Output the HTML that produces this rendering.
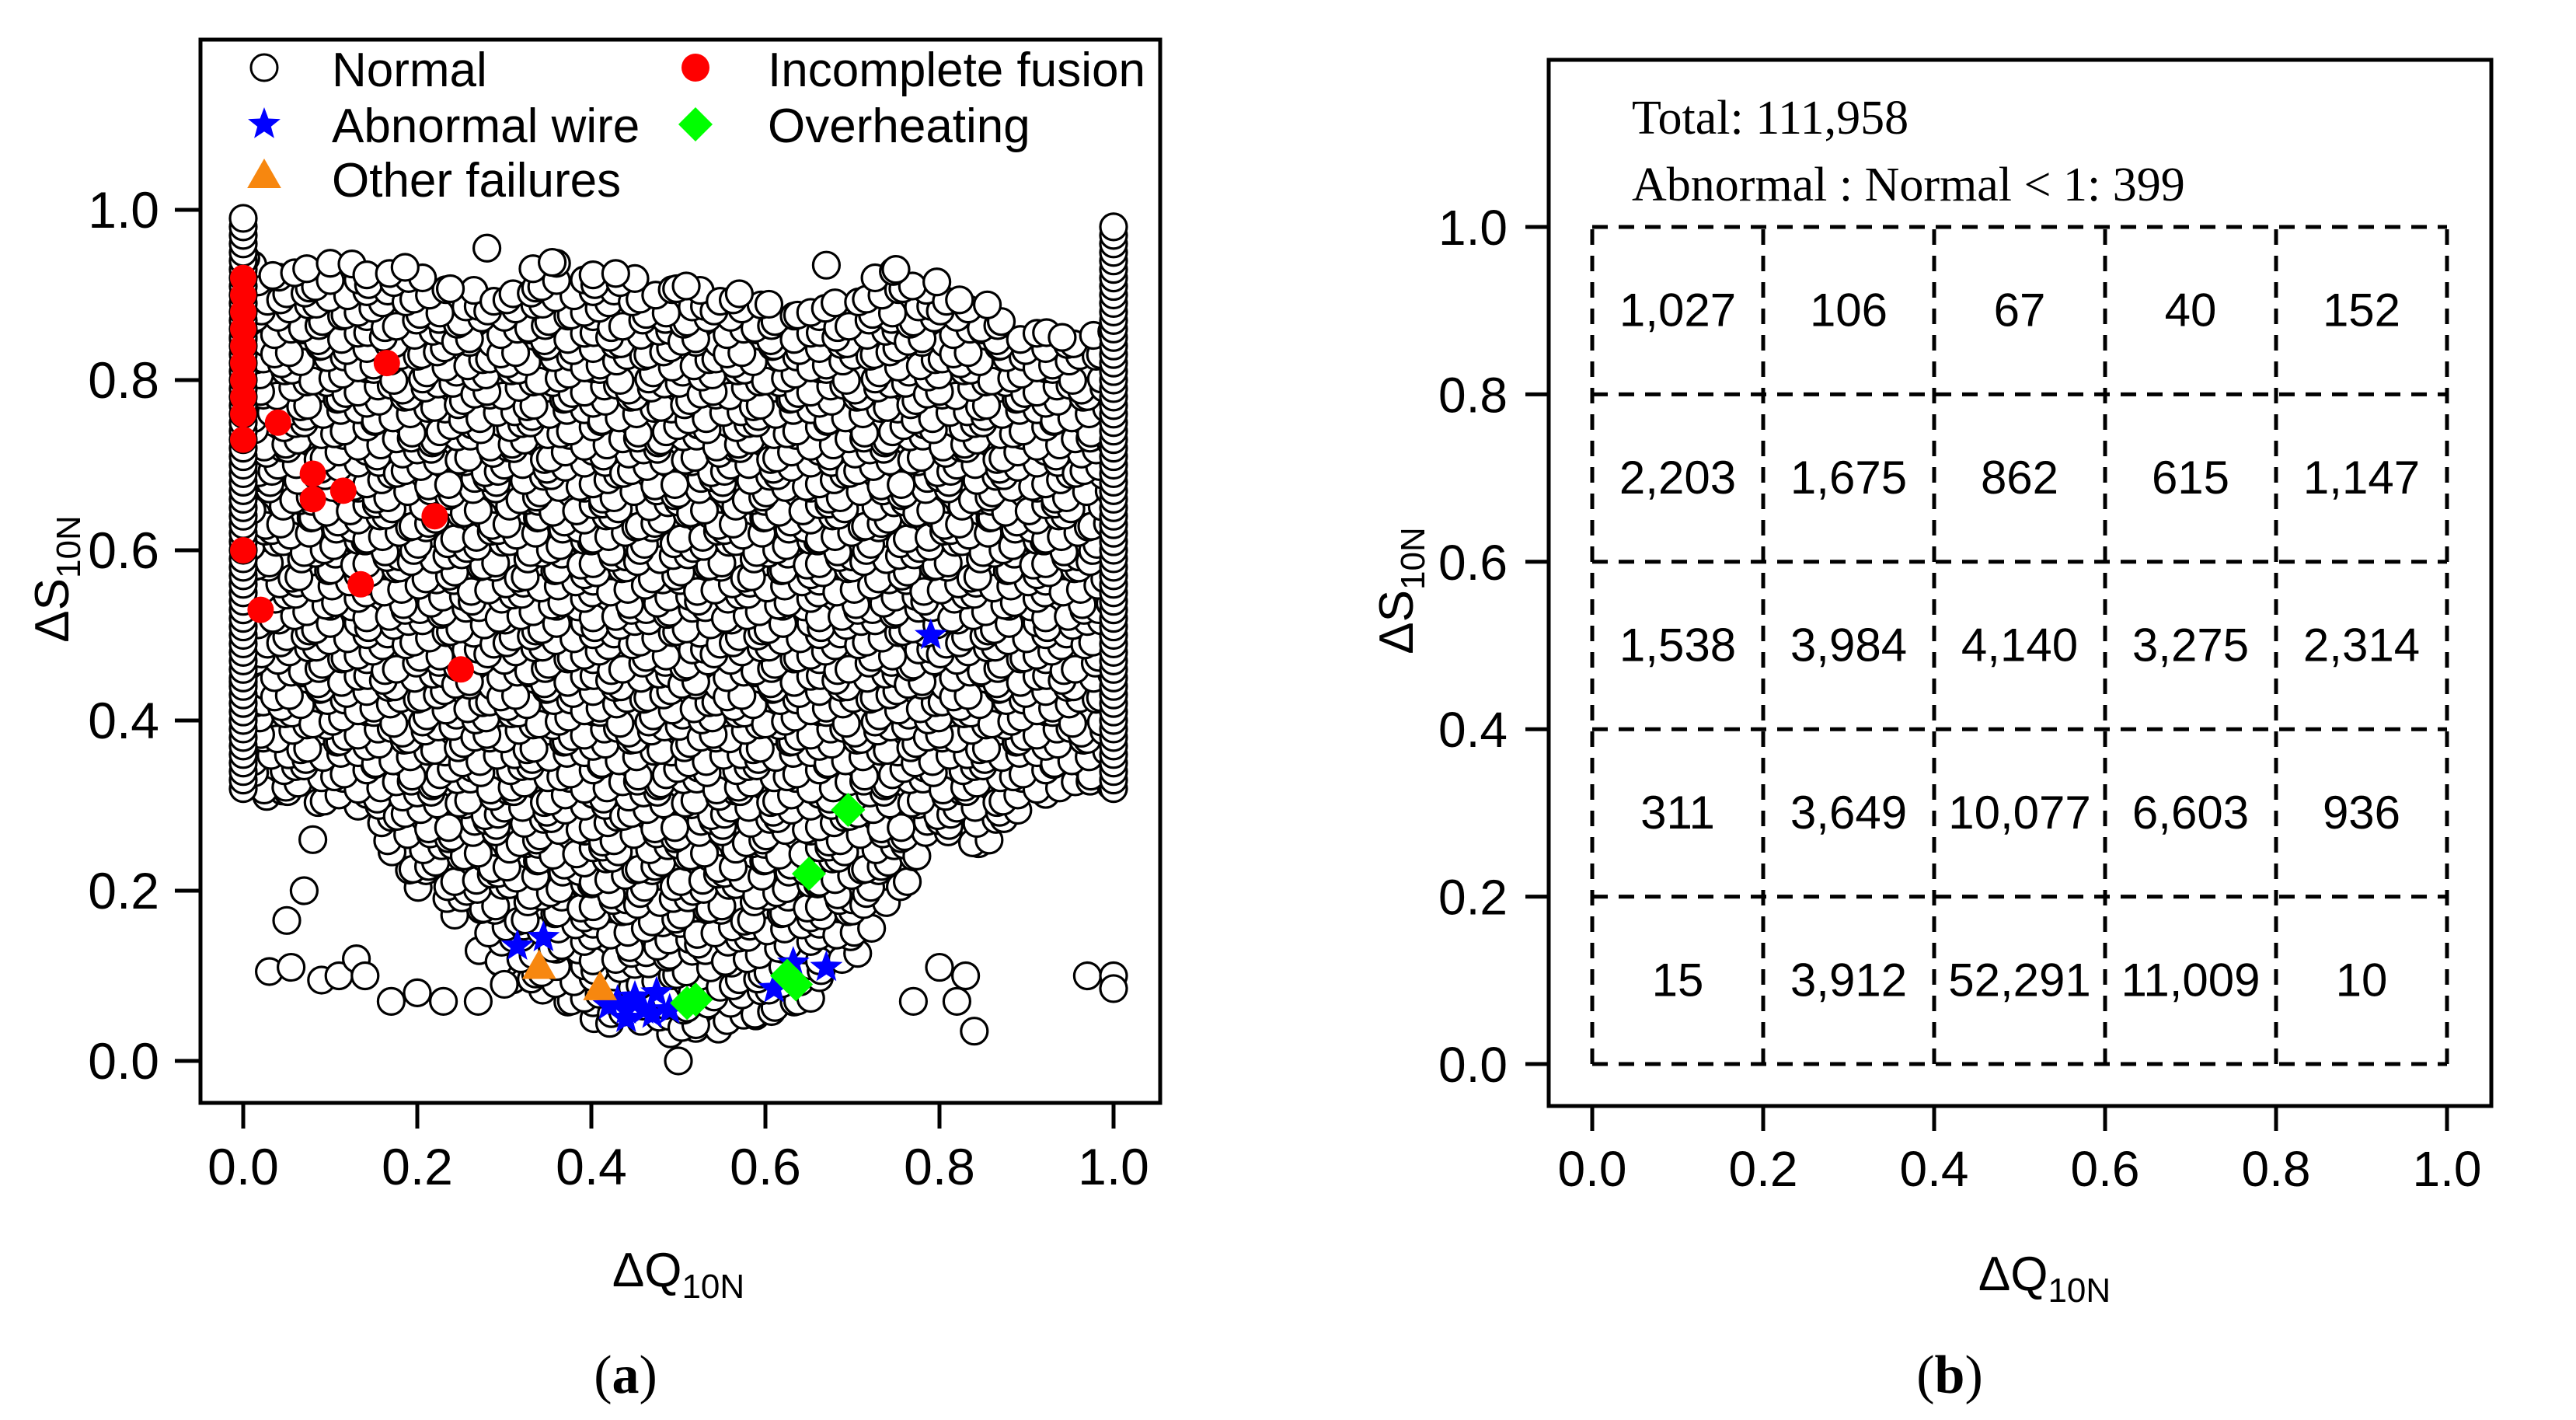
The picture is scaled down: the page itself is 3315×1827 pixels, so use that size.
<!DOCTYPE html>
<html><head><meta charset="utf-8"><style>
html,body{margin:0;padding:0;background:#fff;}
svg{display:block;}
</style></head><body>
<svg id="fig" width="3315" height="1827" viewBox="0 0 3315 1827" xmlns="http://www.w3.org/2000/svg">
<rect width="3315" height="1827" fill="#fff"/>
<g id="panelA"></g>
<g id="panelB"></g>
</svg>
<script>
// ---------- Panel (a) data ----------
const envX = [0, 0.02, 0.05, 0.1, 0.15, 0.2, 0.25, 0.3, 0.35, 0.4, 0.45, 0.5, 0.55, 0.6, 0.65, 0.7, 0.75, 0.8, 0.85, 0.9, 0.95, 0.98];
const envLow = [0.32, 0.31, 0.3, 0.3, 0.27, 0.2, 0.17, 0.1, 0.07, 0.05, 0.035, 0.03, 0.035, 0.05, 0.07, 0.12, 0.2, 0.25, 0.25, 0.3, 0.32, 0.32];
const envHigh = [0.98, 0.94, 0.93, 0.94, 0.94, 0.93, 0.91, 0.9, 0.94, 0.93, 0.92, 0.92, 0.91, 0.9, 0.89, 0.9, 0.94, 0.91, 0.89, 0.87, 0.85, 0.86];
const edgeLeftY = [0.32, 1.0];
const edgeRightY = [0.32, 0.99];
const outlierX = [0.03,0.05,0.07,0.055,0.09,0.11,0.13,0.14,0.08,0.17,0.2,0.23,0.27,0.3,0.77,0.8,0.82,0.84,0.83,0.97,1.0,1.0,0.28,0.67,0.5];
const outlierY = [0.105,0.165,0.2,0.11,0.095,0.1,0.12,0.1,0.26,0.07,0.08,0.07,0.07,0.09,0.07,0.11,0.07,0.035,0.1,0.1,0.1,0.085,0.955,0.935,0.0];
const fusionX = [0,0,0,0,0,0,0,0,0,0,0,0.02,0.04,0.08,0.08,0.115,0.165,0.135,0.22,0.25];
const fusionY = [0.92,0.9,0.88,0.86,0.84,0.82,0.8,0.78,0.76,0.73,0.6,0.53,0.75,0.69,0.66,0.67,0.82,0.56,0.64,0.46];
const wireX = [0.79,0.315,0.345,0.42,0.43,0.44,0.45,0.46,0.475,0.49,0.44,0.47,0.61,0.632,0.67];
const wireY = [0.5,0.135,0.145,0.065,0.07,0.06,0.075,0.06,0.08,0.06,0.05,0.055,0.085,0.115,0.11];
const otherX = [0.34,0.41];
const otherY = [0.11,0.085];
const heatX = [0.695,0.65,0.51,0.52,0.625,0.635];
const heatY = [0.295,0.22,0.068,0.072,0.1,0.09];
const ticks = [0,0.2,0.4,0.6,0.8,1.0];
const tickLabels = ["0.0","0.2","0.4","0.6","0.8","1.0"];
// ---------- Panel (b) data ----------
const gridRows = [
 ["1,027","106","67","40","152"],
 ["2,203","1,675","862","615","1,147"],
 ["1,538","3,984","4,140","3,275","2,314"],
 ["311","3,649","10,077","6,603","936"],
 ["15","3,912","52,291","11,009","10"]
];
const totalText = "Total: 111,958";
const ratioText = "Abnormal : Normal < 1: 399";

const NS="http://www.w3.org/2000/svg";
function mk(tag, attrs, parent){const e=document.createElementNS(NS,tag);for(const k in attrs)e.setAttribute(k,attrs[k]);parent.appendChild(e);return e;}
const SANS='"Liberation Sans", Arial, sans-serif', SERIF='"Liberation Serif", "Times New Roman", serif';

// ===== Panel A =====
const A=document.getElementById('panelA');
const ax=v=>313+v*1120, ay=v=>1365-v*1095;
function interp(xs,ys,x){for(let i=0;i<xs.length-1;i++){if(x<=xs[i+1]){const t=(x-xs[i])/(xs[i+1]-xs[i]);return ys[i]+t*(ys[i+1]-ys[i]);}}return ys[ys.length-1];}
const cloud=mk('g',{},A);


function normalPt(x,y){const c=mk('circle',{cx:ax(x),cy:ay(y),r:17,fill:'#fff',stroke:'#000','stroke-width':3.2},cloud);

}
const jit=[0,0.007,-0.005,0.009,-0.008,0.003,-0.003,0.006,-0.009,0.001,0.008,-0.006,0.004];
let row=0;
for(let yv=0;yv<=1.0;yv+=0.0155,row++){
 let col=0;
 for(let xv=(row%2?0.009:0.019);xv<=0.99;xv+=0.02,col++){
  const lo=interp(envX,envLow,xv),hi=interp(envX,envHigh,xv);
  const yy=yv+jit[(row*5+col*7)%13]*0.8, xx=xv+jit[(row*7+col*3+row*col)%13];
  if(yy>=lo&&yy<=hi)normalPt(xx,yy);}}
for(let y=edgeLeftY[0];y<=edgeLeftY[1];y+=0.01)normalPt(0,y);
for(let y=edgeRightY[0];y<=edgeRightY[1];y+=0.01)normalPt(1,y);
outlierX.forEach((x,i)=>normalPt(x,outlierY[i]));
fusionX.forEach((x,i)=>{const c=mk('circle',{cx:ax(x),cy:ay(fusionY[i]),r:17,fill:'#f00'},A);

});
function star(cx,cy,r,fill,parent){let p='';for(let i=0;i<10;i++){const a=-Math.PI/2+i*Math.PI/5,rr=i%2?r*0.42:r;p+=(i?'L':'M')+(cx+rr*Math.cos(a)).toFixed(1)+' '+(cy+rr*Math.sin(a)).toFixed(1);}return mk('path',{d:p+'Z',fill:fill},parent);}
function tri(cx,cy,r,fill,parent){return mk('path',{d:`M${cx} ${cy-r}L${cx+r*0.95} ${cy+r*0.65}L${cx-r*0.95} ${cy+r*0.65}Z`,fill:fill},parent);}
function dia(cx,cy,r,fill,parent){return mk('path',{d:`M${cx} ${cy-r}L${cx+r} ${cy}L${cx} ${cy+r}L${cx-r} ${cy}Z`,fill:fill},parent);}
wireX.forEach((x,i)=>{const s=star(ax(x),ay(wireY[i]),22,'#00f',A);

});
otherX.forEach((x,i)=>{const s=tri(ax(x),ay(otherY[i]),23,'#f7870f',A);

});
heatX.forEach((x,i)=>{const s=dia(ax(x),ay(heatY[i]),22,'#0f0',A);

});
const boxA=mk('rect',{x:258,y:51,width:1235,height:1368,fill:'none',stroke:'#000','stroke-width':5},A);


ticks.forEach((t,i)=>{
 mk('line',{x1:ax(t),x2:ax(t),y1:1419,y2:1452,stroke:'#000','stroke-width':5},A);
 const tx=mk('text',{x:ax(t),y:1524,'font-family':SANS,'font-size':66,'text-anchor':'middle'},A);tx.textContent=tickLabels[i];
 
 
 mk('line',{x1:225,x2:258,y1:ay(t),y2:ay(t),stroke:'#000','stroke-width':5},A);
 const ty=mk('text',{x:205,y:ay(t)+23,'font-family':SANS,'font-size':66,'text-anchor':'end'},A);ty.textContent=tickLabels[i];
 
 
});
const leg=mk('g',{},A);


mk('circle',{cx:340,cy:87,r:17,fill:'#fff',stroke:'#000','stroke-width':3},leg);
star(340,160,22,'#00f',leg);
tri(340,227,23,'#f7870f',leg);
mk('circle',{cx:895,cy:87,r:18,fill:'#f00'},leg);
dia(895,160,22,'#0f0',leg);
[["Normal",427,111],["Abnormal wire",427,183],["Other failures",427,253],["Incomplete fusion",988,111],["Overheating",988,183]].forEach(l=>{
 const t=mk('text',{x:l[1],y:l[2],'font-family':SANS,'font-size':62},leg);t.textContent=l[0];
 
 });
const xtA=mk('text',{x:873,y:1655,'font-family':SANS,'font-size':62,'text-anchor':'middle'},A);
xtA.innerHTML='ΔQ<tspan font-size="44" dy="15">10N</tspan>';


const ytA=mk('text',{x:0,y:0,'font-family':SANS,'font-size':62,'text-anchor':'middle',transform:'translate(88,745) rotate(-90)'},A);
ytA.innerHTML='ΔS<tspan font-size="44" dy="15">10N</tspan>';


const capA=mk('text',{x:805,y:1792,'font-family':SERIF,'font-size':70,'text-anchor':'middle'},A);
capA.innerHTML='(<tspan font-weight="bold">a</tspan>)';



// ===== Panel B =====
const B=document.getElementById('panelB');
const bx=v=>2049+v*1100, by=v=>1369-v*1077;
const boxB=mk('rect',{x:1993,y:77,width:1213,height:1346,fill:'none',stroke:'#000','stroke-width':5},B);


for(let i=0;i<=5;i++){const v=i/5;
 mk('line',{x1:bx(v),x2:bx(v),y1:by(0),y2:by(1),stroke:'#000','stroke-width':5,'stroke-dasharray':'20 14'},B);
 mk('line',{x1:bx(0),x2:bx(1),y1:by(v),y2:by(v),stroke:'#000','stroke-width':5,'stroke-dasharray':'20 14'},B);}
ticks.forEach((t,i)=>{
 mk('line',{x1:bx(t),x2:bx(t),y1:1423,y2:1455,stroke:'#000','stroke-width':5},B);
 const tx=mk('text',{x:bx(t),y:1526,'font-family':SANS,'font-size':64,'text-anchor':'middle'},B);tx.textContent=tickLabels[i];
 
 
 mk('line',{x1:1963,x2:1993,y1:by(t),y2:by(t),stroke:'#000','stroke-width':5},B);
 const ty=mk('text',{x:1940,y:by(t)+23,'font-family':SANS,'font-size':64,'text-anchor':'end'},B);ty.textContent=tickLabels[i];
 
 
});
gridRows.forEach((row,r)=>row.forEach((val,c)=>{
 const t=mk('text',{x:bx((c+0.5)/5),y:by(1-(r+0.5)/5)+20,'font-family':SANS,'font-size':60,'text-anchor':'middle'},B);
 t.textContent=val;
 
 }));
const tt=mk('text',{x:2100,y:172,'font-family':SERIF,'font-size':62},B);tt.textContent=totalText;


const rt=mk('text',{x:2100,y:258,'font-family':SERIF,'font-size':62},B);rt.textContent=ratioText;


const xtB=mk('text',{x:2631,y:1660,'font-family':SANS,'font-size':62,'text-anchor':'middle'},B);
xtB.innerHTML='ΔQ<tspan font-size="44" dy="15">10N</tspan>';


const ytB=mk('text',{x:0,y:0,'font-family':SANS,'font-size':62,'text-anchor':'middle',transform:'translate(1818,760) rotate(-90)'},B);
ytB.innerHTML='ΔS<tspan font-size="44" dy="15">10N</tspan>';


const capB=mk('text',{x:2509,y:1792,'font-family':SERIF,'font-size':70,'text-anchor':'middle'},B);
capB.innerHTML='(<tspan font-weight="bold">b</tspan>)';


</script>
</body></html>
